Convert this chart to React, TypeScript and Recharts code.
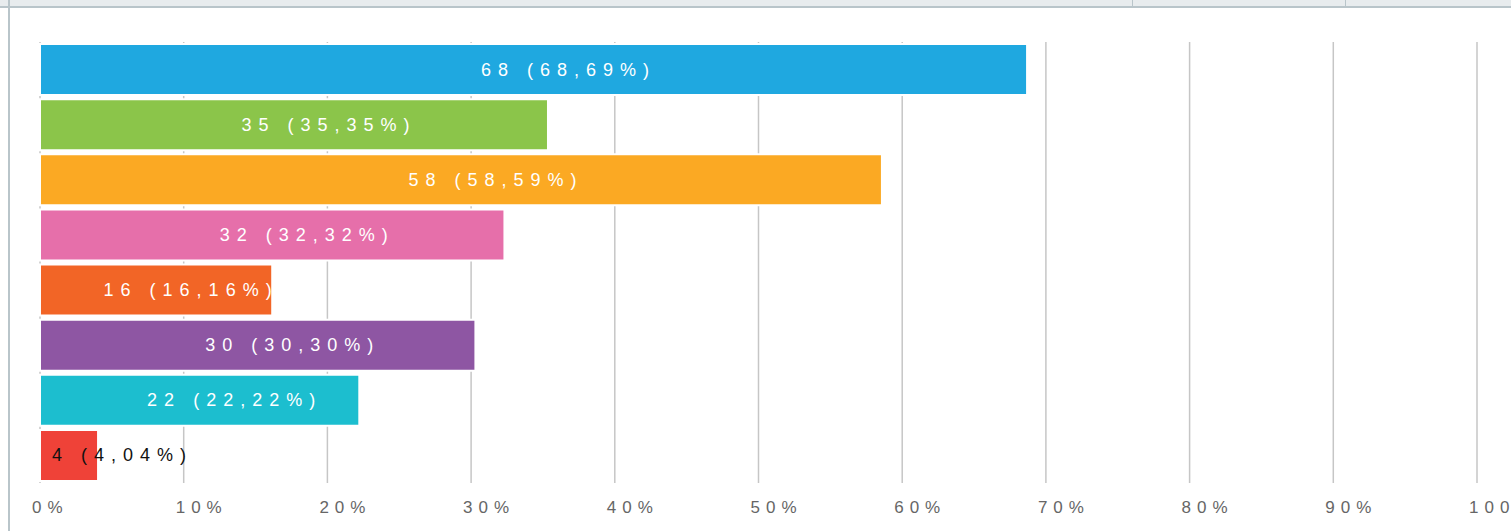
import { BarChart, Bar, XAxis, YAxis, CartesianGrid, Cell, LabelList } from "recharts";

const answers = ["A", "B", "C", "D", "E", "F", "G", "H"];
const counts = [68, 35, 58, 32, 16, 30, 22, 4];
const shares = [68.69, 35.35, 58.59, 32.32, 16.16, 30.3, 22.22, 4.04];
const xTicks = [0, 10, 20, 30, 40, 50, 60, 70, 80, 90, 100];

const colors = ["#1fa8e0", "#8bc54a", "#fba923", "#e66faa", "#f26526", "#8e56a3", "#1cbecf", "#ef4238"];

const data = answers.map((name, i) => ({ name, count: counts[i], share: shares[i] }));

const font = "Arial, 'Liberation Sans', sans-serif";

function BarLabel(props: any) {
  const { x, y, width, height, index } = props;
  const text = `${counts[index]} (${shares[index].toFixed(2).replace(".", ",")}%)`;
  const small = width < 100;
  return (
    <text
      x={small ? x + 12 : x + width / 2 + 35}
      y={y + height / 2}
      dy={6}
      textAnchor={small ? "start" : "middle"}
      fill={small ? "#111" : "#fff"}
      fontSize={18}
      letterSpacing={7}
      fontFamily={font}
    >
      {text}
    </text>
  );
}

function Tick(props: any) {
  const { x, y, payload } = props;
  return (
    <text x={x - 8} y={y} dy={28} textAnchor="start" fill="#666" fontSize={17} letterSpacing={6} fontFamily={font}>
      {`${payload.value}%`}
    </text>
  );
}

export default function App() {
  return (
    <div style={{ position: "fixed", left: 0, top: 0, width: 1511, height: 531, background: "#fff", overflow: "hidden" }}>
      {/* page chrome */}
      <div style={{ position: "absolute", left: 0, top: 0, width: 1511, height: 6, background: "#e8ecee", borderBottom: "2px solid #b9c5ca" }} />
      <div style={{ position: "absolute", left: 1132, top: 0, width: 1, height: 7, background: "#b9c5ca" }} />
      <div style={{ position: "absolute", left: 1345, top: 0, width: 1, height: 7, background: "#b9c5ca" }} />
      <div style={{ position: "absolute", left: 8, top: 0, width: 2, height: 531, background: "#b9c5ca" }} />
      <div style={{ position: "absolute", left: 0, top: 0 }}>
        <BarChart
          width={1511}
          height={531}
          data={data}
          layout="vertical"
          margin={{ top: 42, right: 34, left: 40, bottom: 8 }}
          barSize={51}
        >
          <CartesianGrid horizontal={false} stroke="#c6c6c6" strokeWidth={1.5} />
          <XAxis
            type="number"
            domain={[0, 100]}
            ticks={xTicks}
            axisLine={false}
            tickLine={false}
            tickSize={0}
            height={40}
            tick={<Tick />}
            interval={0}
          />
          <YAxis type="category" dataKey="name" hide />
          <Bar dataKey="share" stroke="#fff" strokeWidth={2} isAnimationActive={false}>
            {data.map((d, i) => (
              <Cell key={d.name} fill={colors[i]} />
            ))}
            <LabelList dataKey="share" content={<BarLabel />} />
          </Bar>
        </BarChart>
      </div>
    </div>
  );
}
